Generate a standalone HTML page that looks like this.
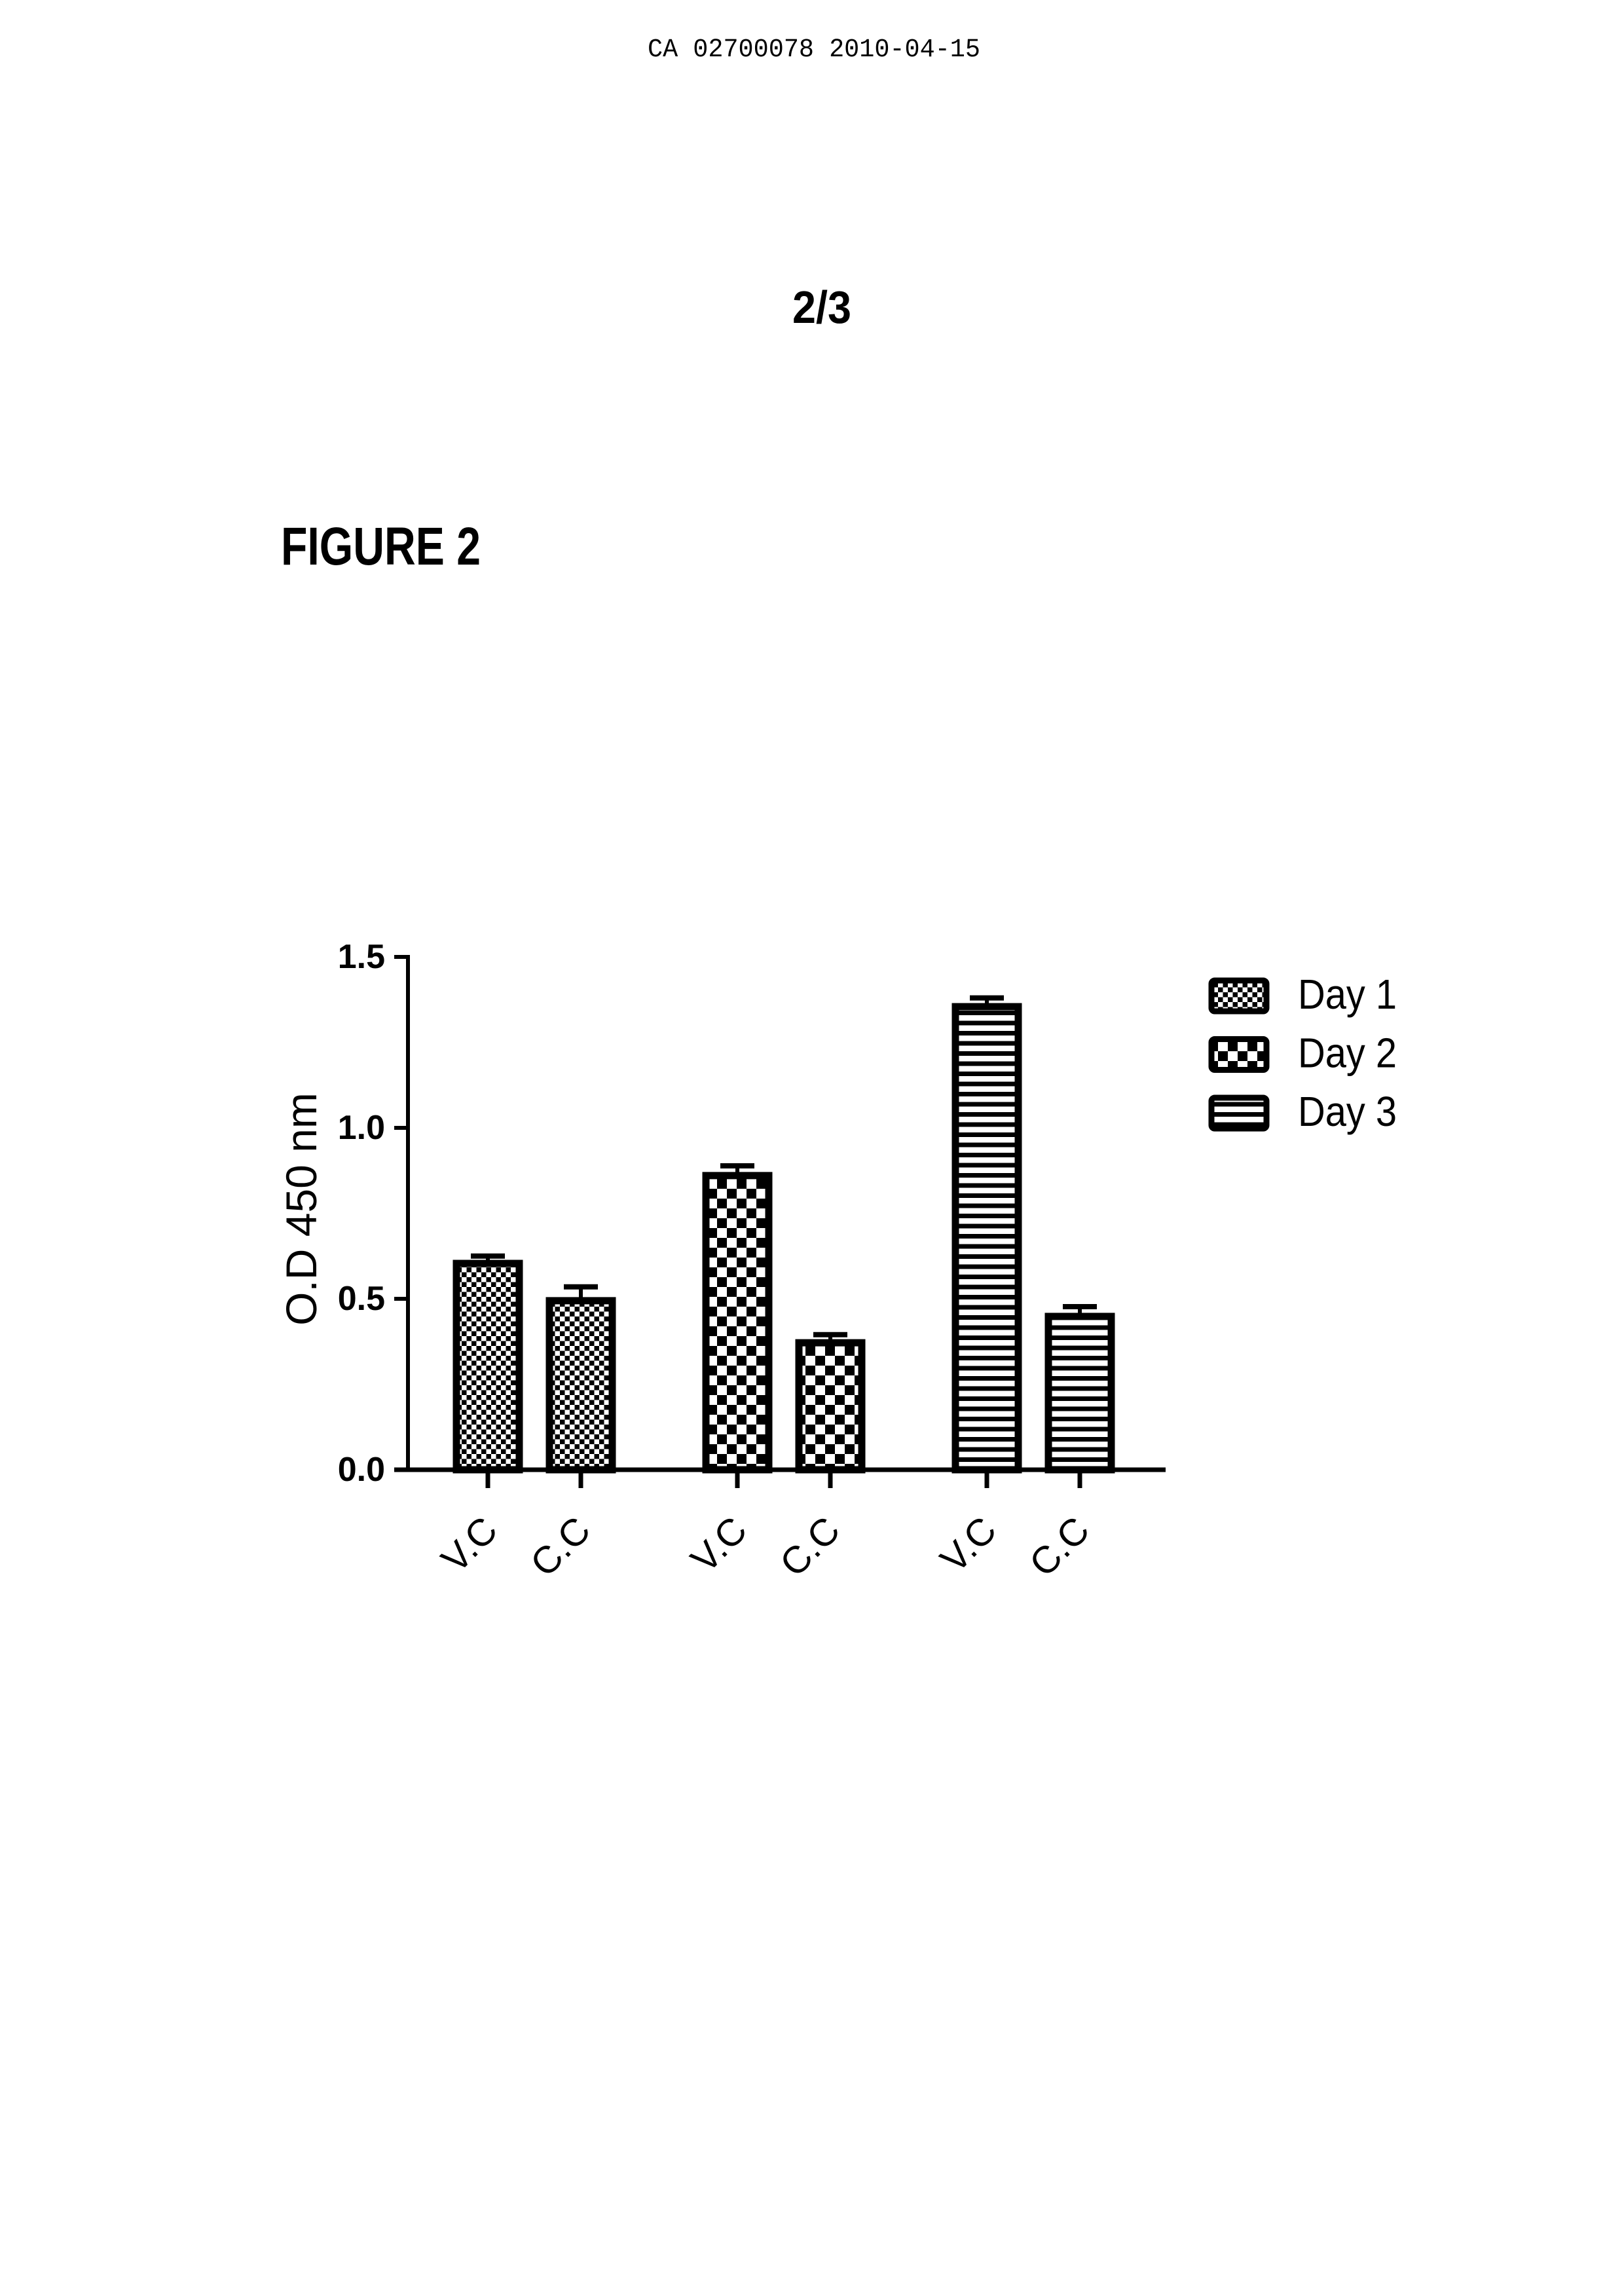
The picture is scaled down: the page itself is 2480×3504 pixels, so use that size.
<!DOCTYPE html>
<html><head><meta charset="utf-8"><style>
html,body{margin:0;padding:0;background:#fff;}
svg{display:block;}
</style></head><body>
<svg id="page" width="2480" height="3504" viewBox="0 0 2480 3504" xmlns="http://www.w3.org/2000/svg">
<defs>
<pattern id="p1" width="15" height="15" patternUnits="userSpaceOnUse">
<rect width="15" height="15" fill="#000"/><rect x="0" y="0" width="7.5" height="7.5" fill="#fff"/><rect x="7.5" y="7.5" width="7.5" height="7.5" fill="#fff"/></pattern>
<pattern id="p2" width="30" height="30" patternUnits="userSpaceOnUse">
<rect width="30" height="30" fill="#000"/><rect x="0" y="0" width="15" height="15" fill="#fff"/><rect x="15" y="15" width="15" height="15" fill="#fff"/></pattern>
<pattern id="p3" width="15.5" height="15.5" patternUnits="userSpaceOnUse">
<rect width="15.5" height="15.5" fill="#fff"/><rect x="0" y="8.5" width="15.5" height="7" fill="#000"/></pattern>
</defs>
<text x="989" y="86" font-family="Liberation Mono, monospace" font-size="40" textLength="508" lengthAdjust="spacingAndGlyphs">CA 02700078 2010-04-15</text>
<text x="1210" y="493" font-family="Liberation Sans, sans-serif" font-weight="bold" font-size="70" textLength="90" lengthAdjust="spacingAndGlyphs">2/3</text>
<text x="429" y="862" font-family="Liberation Sans, sans-serif" font-weight="bold" font-size="82" textLength="305" lengthAdjust="spacingAndGlyphs">FIGURE 2</text>
<g id="chart"></g>
</svg>
<script>
const categories = ["V.C","C.C","V.C","C.C","V.C","C.C"];
const groups = ["Day 1","Day 1","Day 2","Day 2","Day 3","Day 3"];
const values = [0.613,0.504,0.870,0.381,1.364,0.458];
const errors = [0.012,0.031,0.019,0.014,0.016,0.019];
const yTicks = [0.0,0.5,1.0,1.5];
const yTickLabels = ["0.0","0.5","1.0","1.5"];
const legendLabels = ["Day 1","Day 2","Day 3"];

const NS="http://www.w3.org/2000/svg";
const g=document.getElementById('chart');
const y0=2244, yPer=522, axisX=623;
function yScale(v){return y0 - v*yPer;}
function xScale(i){const grp=Math.floor(i/2), sub=i%2; return 816 + grp*381 + (sub? 71:-71);}
const barW=106;
const pats={"Day 1":"url(#p1)","Day 2":"url(#p2)","Day 3":"url(#p3)"};
function mk(tag,attrs){const e=document.createElementNS(NS,tag);for(const k in attrs)e.setAttribute(k,attrs[k]);g.appendChild(e);return e;}

let e=mk('line',{x1:axisX,y1:yScale(1.5)-3,x2:axisX,y2:y0+3,stroke:'#000','stroke-width':6});


e=mk('line',{x1:602,y1:y0,x2:1780,y2:y0,stroke:'#000','stroke-width':7});


yTicks.forEach((t,i)=>{
  const y=yScale(t);
  let tk=mk('line',{x1:602,y1:y,x2:axisX,y2:y,stroke:'#000','stroke-width':6});
  
  
  let tl=mk('text',{x:588,y:y+17,'text-anchor':'end','font-family':'Liberation Sans, sans-serif','font-weight':'bold','font-size':52});
  tl.textContent=yTickLabels[i];
  
  
});
e=mk('text',{x:0,y:0,'text-anchor':'middle','font-family':'Liberation Sans, sans-serif','font-size':66,transform:'translate(483,1846) rotate(-90)'});
e.textContent='O.D 450 nm';



values.forEach((v,i)=>{
  const cx=xScale(i), top=yScale(v), et=yScale(v+errors[i]);
  let eb=mk('line',{x1:cx,y1:et,x2:cx,y2:top,stroke:'#000','stroke-width':6});
  
  
  let cap=mk('line',{x1:cx-26,y1:et,x2:cx+26,y2:et,stroke:'#000','stroke-width':8});
  
  
  let b=mk('rect',{x:cx-barW/2+5,y:top+5,width:barW-10,height:y0-top-5,fill:pats[groups[i]],stroke:'#000','stroke-width':11});
  
  
  let tk=mk('line',{x1:cx,y1:y0,x2:cx,y2:2272,stroke:'#000','stroke-width':7});
  
  
  let lb=mk('text',{x:0,y:0,'text-anchor':'end','font-family':'Liberation Sans, sans-serif','font-size':58,transform:'translate('+(cx+18)+',2340) rotate(-45)'});
  lb.textContent=categories[i];
  
  
});

legendLabels.forEach((l,i)=>{
  const y=1493+i*89.5;
  let bx=mk('rect',{x:1850,y:y+4,width:84,height:47,rx:5,fill:pats[l],stroke:'#000','stroke-width':9});
  
  
  let t=mk('text',{x:1982,y:y+47,'font-family':'Liberation Sans, sans-serif','font-size':64,textLength:151,lengthAdjust:'spacingAndGlyphs'});
  t.textContent=l;
  
  
});
</script>
</body></html>
